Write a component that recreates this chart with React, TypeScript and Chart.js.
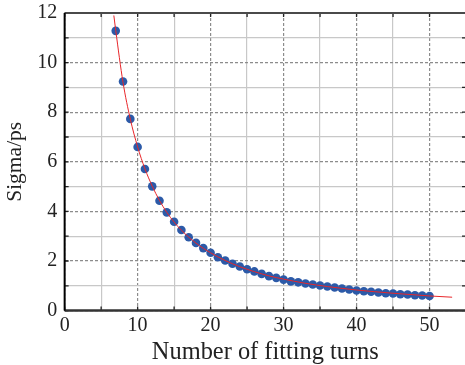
import React, { useEffect, useRef } from "react";
import { Chart, registerables } from "chart.js";

Chart.register(...registerables);

const turns: number[] = [7, 8, 9, 10, 11, 12, 13, 14, 15, 16, 17, 18, 19, 20, 21, 22, 23, 24, 25, 26, 27, 28, 29, 30, 31, 32, 33, 34, 35, 36, 37, 38, 39, 40, 41, 42, 43, 44, 45, 46, 47, 48, 49, 50];
const sigma: number[] = [11.28, 9.24, 7.73, 6.6, 5.71, 5.01, 4.43, 3.96, 3.58, 3.25, 2.96, 2.73, 2.52, 2.33, 2.15, 2.02, 1.89, 1.78, 1.67, 1.58, 1.48, 1.39, 1.32, 1.25, 1.18, 1.14, 1.09, 1.05, 1.01, 0.97, 0.93, 0.89, 0.85, 0.81, 0.78, 0.76, 0.73, 0.7, 0.69, 0.66, 0.65, 0.62, 0.61, 0.59];

const fitX: number[] = [6.74, 7, 8, 9, 10, 11, 12, 13, 14, 15, 16, 18, 20, 22, 24, 26, 28, 30, 33, 36, 40, 45, 50, 53.1];
const fitY: number[] = [11.9, 11.3, 9.2, 7.72, 6.6, 5.72, 5.02, 4.44, 3.96, 3.57, 3.24, 2.72, 2.33, 2.02, 1.77, 1.57, 1.4, 1.27, 1.1, 0.97, 0.83, 0.7, 0.59, 0.54];

const xLabelTicks: number[] = [0, 10, 20, 30, 40, 50];
const yLabelTicks: number[] = [0, 2, 4, 6, 8, 10, 12];

const serif = "'Liberation Serif', 'DejaVu Serif', serif";

const framePlugin = {
  id: "frame",
  beforeDatasetsDraw(chart: any) {
    const { ctx, chartArea, scales } = chart;
    const { left, right, top, bottom } = chartArea;
    const tl = 4;
    ctx.save();
    ctx.strokeStyle = "#222";
    ctx.lineWidth = 1.3;
    scales.x.ticks.forEach((t: any) => {
      const px = scales.x.getPixelForValue(t.value);
      ctx.beginPath();
      ctx.moveTo(px, bottom);
      ctx.lineTo(px, bottom - tl);
      ctx.moveTo(px, top);
      ctx.lineTo(px, top + tl);
      ctx.stroke();
    });
    scales.y.ticks.forEach((t: any) => {
      const py = scales.y.getPixelForValue(t.value);
      ctx.beginPath();
      ctx.moveTo(left, py);
      ctx.lineTo(left + tl, py);
      ctx.moveTo(right, py);
      ctx.lineTo(right - tl, py);
      ctx.stroke();
    });
    ctx.lineWidth = 2;
    ctx.strokeStyle = "#4a4a4a";
    ctx.beginPath();
    ctx.moveTo(left, top);
    ctx.lineTo(right + 5, top);
    ctx.stroke();
    ctx.strokeStyle = "#333";
    ctx.lineWidth = 2.5;
    ctx.beginPath();
    ctx.moveTo(left, bottom);
    ctx.lineTo(right + 5, bottom);
    ctx.stroke();
    ctx.strokeStyle = "#000";
    ctx.lineWidth = 2;
    ctx.beginPath();
    ctx.moveTo(left, top);
    ctx.lineTo(left, bottom);
    ctx.stroke();
    ctx.restore();
  },
};

export default function App() {
  const ref = useRef<HTMLCanvasElement | null>(null);
  useEffect(() => {
    if (!ref.current) return;
    const chart = new Chart(ref.current, {
      type: "scatter",
      data: {
        datasets: [
          {
            type: "line",
            data: fitX.map((x, i) => ({ x, y: fitY[i] })),
            borderColor: "#e8262a",
            borderWidth: 1,
            pointRadius: 0,
            cubicInterpolationMode: "monotone",
            fill: false,
            order: 1,
          } as any,
          {
            data: turns.map((x, i) => ({ x, y: sigma[i] })),
            backgroundColor: "#2c5aa8",
            borderColor: "#2c5aa8",
            borderWidth: 0,
            pointRadius: 4.3,
            order: 2,
          },
        ],
      },
      options: {
        animation: false,
        responsive: true,
        maintainAspectRatio: false,
        layout: { padding: { left: 0, right: 0, top: 0, bottom: 0 } },
        plugins: { legend: { display: false }, tooltip: { enabled: false } },
        scales: {
          x: {
            type: "linear",
            min: 0,
            max: 55,
            grid: {
              drawTicks: false,
              lineWidth: 1.2,
              color: (c: any) => (c.tick && c.tick.value % 10 === 0 ? "#8c8c8c" : "#c8c8c8"),
            },
            border: {
              display: false,
              dash: (c: any) => (c.tick && c.tick.value % 10 === 0 ? [3, 2] : []),
            },
            ticks: {
              stepSize: 5,
              autoSkip: false,
              maxRotation: 0,
              padding: 5,
              color: "#222",
              font: { family: serif, size: 20, lineHeight: 1 },
              callback: (v: any) => (xLabelTicks.includes(Number(v)) ? String(v) : ""),
            },
            title: {
              display: true,
              text: "Number of fitting turns",
              color: "#222",
              font: { family: serif, size: 24.4, lineHeight: 1 },
              padding: { top: 0, bottom: 0 },
            },
          },
          y: {
            type: "linear",
            min: 0,
            max: 12,
            grid: {
              drawTicks: false,
              lineWidth: 1.2,
              color: (c: any) => (c.tick && c.tick.value % 2 === 0 ? "#8c8c8c" : "#c8c8c8"),
            },
            border: {
              display: false,
              dash: (c: any) => (c.tick && c.tick.value % 2 === 0 ? [3, 2] : []),
            },
            ticks: {
              stepSize: 1,
              autoSkip: false,
              padding: 7.5,
              color: "#222",
              font: { family: serif, size: 20, lineHeight: 0.55 },
              callback: (v: any) => (yLabelTicks.includes(Number(v)) ? String(v) : ""),
            },
            title: {
              display: true,
              text: "Sigma/ps",
              color: "#222",
              font: { family: serif, size: 21.5, lineHeight: 1.1 },
              padding: { top: 4, bottom: 2 },
            },
          },
        },
      },
      plugins: [framePlugin],
    });
    return () => chart.destroy();
  }, []);
  return (
    <div style={{ position: "fixed", left: 0, top: 0, width: 471, height: 365 }}>
      <canvas ref={ref} />
    </div>
  );
}
